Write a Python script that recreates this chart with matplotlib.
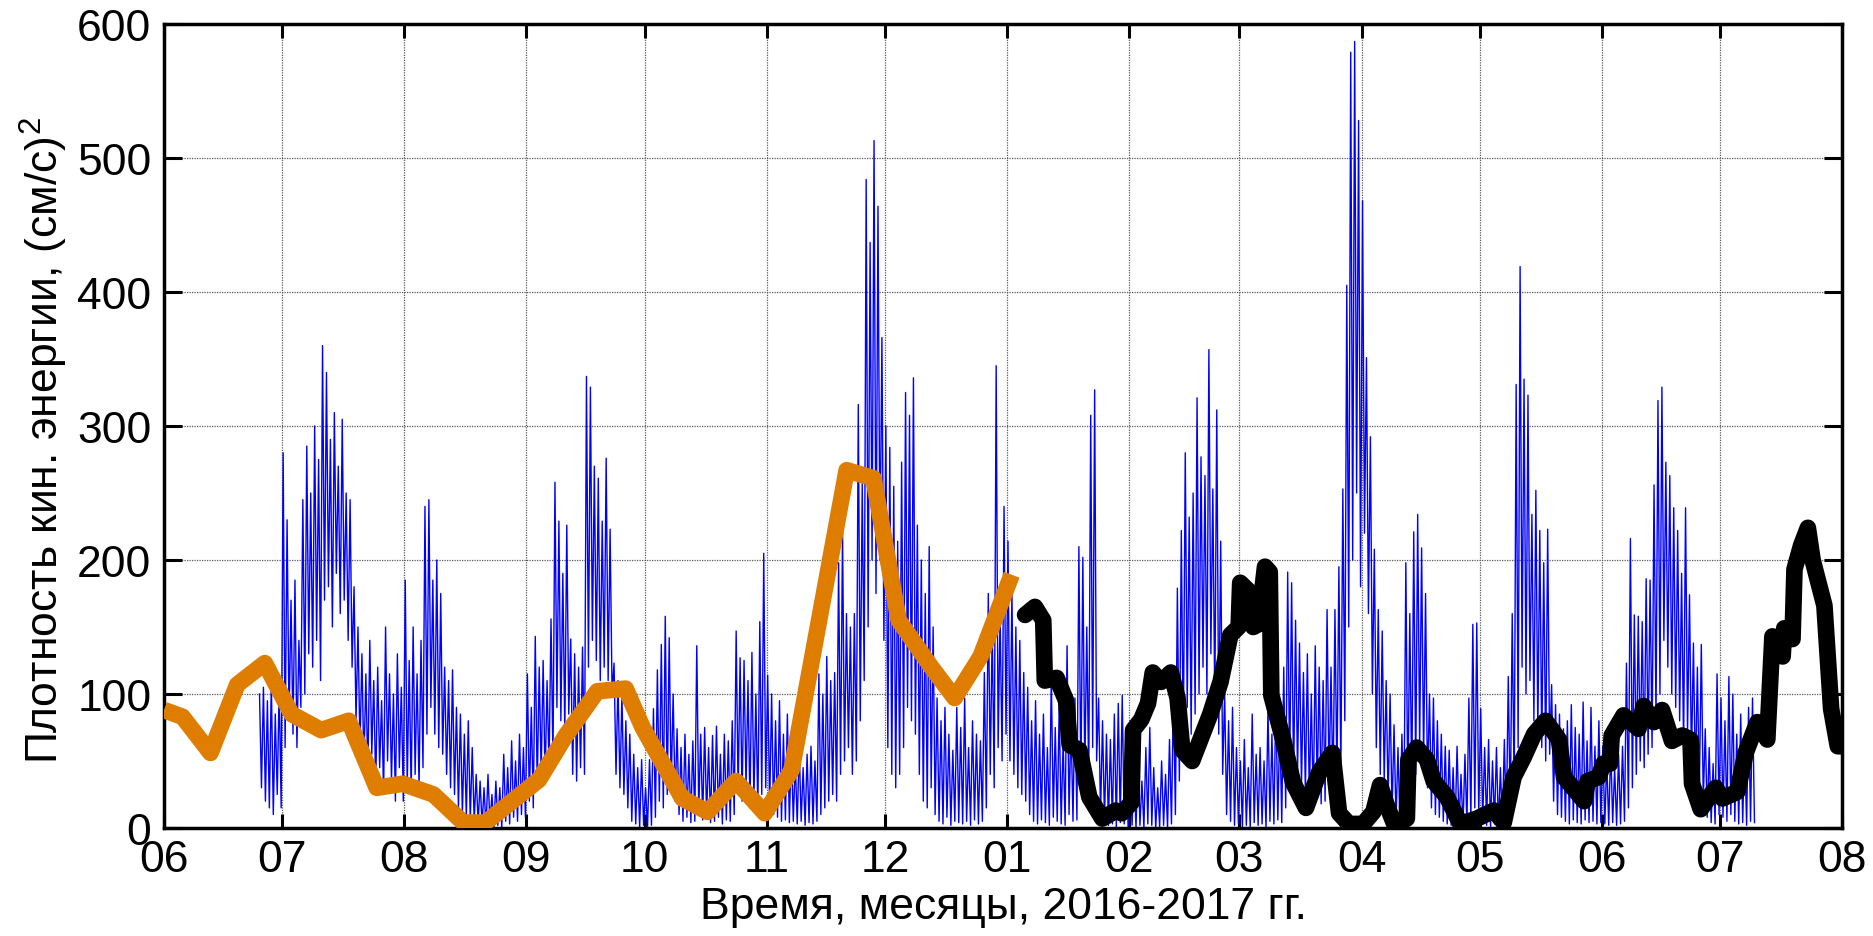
import numpy as np
import matplotlib
matplotlib.use('Agg')
import matplotlib.pyplot as plt

plt.rcParams['font.family'] = ['Liberation Sans', 'DejaVu Sans']
plt.rcParams['mathtext.fontset'] = 'custom'
plt.rcParams['mathtext.rm'] = 'Liberation Sans'
plt.rcParams['mathtext.default'] = 'regular'

# time axis: days counted from 2016-06-01
month_days   = [0, 30, 61, 92, 122, 153, 183, 214, 245, 273, 304, 334, 365, 395, 426]
month_labels = ['06', '07', '08', '09', '10', '11', '12', '01', '02', '03', '04', '05', '06', '07', '08']

# measured series: daily max / min of kinetic energy density, starting at day 24
blue_start = 24
blue_hi = [
    100, 105, 95, 110, 85, 105, 280, 230, 170, 185,
    140, 245, 285, 250, 300, 275, 360, 340, 290, 310,
    270, 305, 250, 245, 180, 150, 130, 115, 140, 110,
    120, 95, 150, 115, 100, 130, 105, 185, 125, 150,
    115, 140, 240, 245, 185, 200, 175, 120, 110, 118,
    90, 85, 70, 80, 60, 40, 35, 30, 40, 25,
    35, 30, 55, 45, 65, 50, 70, 60, 115, 90,
    143, 120, 125, 110, 156, 258, 229, 190, 226, 141,
    130, 120, 135, 337, 329, 270, 261, 229, 276, 223,
    123, 110, 100, 80, 70, 55, 45, 51, 30, 51,
    89, 118, 137, 158, 142, 100, 74, 60, 70, 55,
    65, 136, 70, 75, 60, 69, 76, 55, 70, 65,
    80, 147, 127, 125, 110, 131, 100, 154, 205, 114,
    100, 80, 95, 70, 85, 61, 50, 60, 45, 55,
    61, 50, 115, 100, 128, 110, 116, 198, 222, 160,
    150, 160, 316, 257, 484, 437, 513, 464, 366, 300,
    284, 255, 214, 273, 325, 308, 336, 226, 200, 175,
    210, 150, 97, 80, 90, 70, 58, 90, 75, 97,
    60, 80, 70, 65, 116, 175, 150, 345, 160, 240,
    214, 177, 150, 140, 116, 105, 80, 95, 70, 85,
    60, 114, 75, 90, 65, 136, 80, 97, 210, 202,
    150, 308, 327, 97, 80, 70, 66, 85, 93, 99,
    60, 45, 40, 54, 35, 60, 75, 45, 30, 50,
    40, 66, 100, 179, 222, 280, 232, 250, 321, 277,
    263, 357, 253, 312, 214, 101, 80, 90, 60, 50,
    66, 45, 85, 55, 60, 50, 89, 70, 97, 80,
    120, 191, 183, 155, 138, 116, 130, 100, 136, 120,
    110, 163, 120, 163, 195, 253, 405, 579, 587, 528,
    468, 351, 292, 208, 163, 147, 110, 100, 77, 60,
    70, 198, 160, 221, 234, 209, 175, 100, 97, 80,
    70, 61, 58, 45, 61, 40, 55, 97, 152, 153,
    89, 60, 66, 50, 60, 45, 66, 113, 160, 331,
    419, 335, 323, 234, 252, 222, 198, 223, 107, 92,
    85, 74, 80, 92, 75, 70, 94, 65, 90, 61,
    80, 61, 50, 61, 45, 55, 61, 123, 216, 159,
    158, 154, 186, 185, 256, 319, 329, 273, 263, 239,
    222, 190, 239, 174, 138, 120, 137, 74, 60, 48,
    115, 97, 80, 113, 100, 70, 85, 61, 90, 97,
]
blue_lo = [
    30, 20, 15, 10, 25, 15, 60, 80, 70, 60,
    90, 100, 130, 120, 140, 110, 170, 180, 150, 190,
    160, 170, 140, 120, 80, 60, 45, 40, 55, 30,
    45, 25, 50, 35, 20, 45, 20, 30, 25, 40,
    30, 45, 70, 90, 70, 60, 55, 40, 30, 25,
    15, 10, 8, 5, 5, 3, 2, 0, 3, 0,
    2, 0, 5, 3, 8, 5, 10, 8, 20, 15,
    30, 40, 35, 45, 50, 90, 80, 70, 85, 40,
    35, 45, 40, 120, 140, 125, 110, 120, 110, 100,
    40, 30, 25, 15, 5, 3, 0, 2, 0, 2,
    8, 20, 15, 25, 30, 20, 10, 5, 8, 4,
    5, 12, 6, 8, 4, 5, 8, 3, 6, 5,
    10, 25, 20, 30, 15, 20, 12, 25, 30, 15,
    10, 8, 5, 6, 4, 5, 3, 5, 2, 4,
    3, 5, 10, 15, 20, 25, 20, 40, 50, 60,
    40, 50, 80, 110, 150, 200, 175, 200, 140, 60,
    40, 30, 40, 60, 90, 80, 70, 40, 20, 15,
    30, 10, 5, 3, 8, 2, 5, 4, 3, 5,
    2, 6, 3, 5, 15, 40, 30, 60, 50, 70,
    50, 40, 30, 25, 20, 10, 5, 3, 6, 4,
    2, 8, 5, 3, 2, 10, 5, 6, 30, 40,
    35, 60, 50, 10, 5, 2, 3, 0, 4, 3,
    0, 2, 0, 2, 0, 3, 2, 0, 1, 2,
    0, 3, 10, 35, 60, 90, 70, 85, 100, 120,
    100, 130, 90, 70, 40, 10, 5, 2, 3, 0,
    2, 0, 4, 2, 3, 0, 5, 3, 6, 4,
    15, 40, 35, 40, 30, 25, 20, 15, 25, 18,
    20, 30, 25, 35, 40, 80, 150, 200, 250, 180,
    220, 160, 100, 60, 40, 35, 20, 10, 5, 3,
    5, 20, 30, 40, 60, 50, 30, 15, 10, 8,
    5, 3, 2, 0, 3, 0, 2, 5, 15, 10,
    5, 2, 0, 3, 0, 2, 3, 10, 25, 60,
    120, 100, 110, 80, 70, 60, 50, 55, 20, 10,
    8, 5, 3, 6, 4, 3, 6, 4, 5, 3,
    4, 3, 2, 4, 2, 3, 5, 15, 30, 40,
    50, 45, 55, 60, 80, 100, 140, 120, 100, 90,
    80, 60, 70, 50, 35, 25, 20, 8, 4, 3,
    10, 8, 5, 10, 5, 3, 4, 2, 5, 4,
]

# smoothed curve, 2016
orange_days = [0, 4.7, 11.8, 18.6, 25.6, 32.4, 39.9, 46.9, 54, 60.6, 68.4, 76, 81.6, 88.4,
               95.2, 102, 110, 117.2, 121.5, 131.6, 138, 145.2, 152.5, 159.3, 173.3,
               180.1, 186.5, 194.8, 200.7, 207.3, 215.2]
orange_vals = [88, 83, 56, 107, 123, 85, 73, 80, 30, 33, 25, 4, 4, 20,
               36, 69, 102, 104, 75, 22, 12, 35, 11, 43, 267,
               261, 155, 120, 97, 128, 189]

# smoothed curve, 2017
black_days = [218.6, 221.1, 223.2, 223.6, 226.6, 229, 229.9, 232.4, 234.9, 238.2, 241.6, 243.1,
              245.6, 246, 248.1, 249.8, 251, 253.1, 255.6, 257.3, 258.5, 261, 263.1, 265.6,
              268.2, 270.7, 272.8, 273.2, 275.3, 276.5, 277.8, 279.5, 280.7, 281.1, 284.1,
              286.6, 289.9, 293.3, 296.6, 298.3, 300.8, 304.4, 307, 308.7, 310.4, 312.5,
              315.5, 315.9, 318, 320.6, 322.3, 325.7, 329.1, 333.3, 337.6, 340.1, 342.6,
              345.2, 347.8, 350.7, 354.1, 355.4, 360.5, 361.4, 364.2, 365.4, 367.1, 367.5,
              370.5, 374.3, 375.6, 378.2, 380.3, 382.8, 385.4, 387.5, 387.9, 390.1, 393.9,
              395.6, 399.4, 401.5, 404.5, 407, 408.3, 410.9, 411.3, 413.4, 413.9, 415.6,
              417.3, 418.5, 421.5, 423.2, 424.9, 426]
black_vals = [159, 165, 155, 110, 112, 95, 62, 58, 23, 7, 13, 11,
              19, 73, 81, 93, 116, 109, 116, 97, 58, 50, 66, 85,
              109, 144, 150, 183, 177, 150, 152, 195, 191, 99, 66,
              34, 15, 42, 56, 11, 3, 3, 12, 32, 17, 1.5,
              7, 51, 60, 51, 35, 23, 3, 7, 13, 4, 38,
              53, 70, 80, 66, 38, 20, 35, 38, 48, 48, 69,
              84, 74, 91, 79, 88, 65, 69, 66, 33, 14, 30,
              22, 27, 56, 79, 66, 143, 128, 149, 141, 193, 211,
              224, 200, 166, 89, 61, 61]

# interleave daily max/min so the series draws as dense spikes
days = np.arange(blue_start, blue_start + len(blue_hi))
blue_x = np.column_stack([days + 0.25, days + 0.75]).ravel()
blue_y = np.column_stack([blue_hi, blue_lo]).ravel()

fig = plt.figure(figsize=(18.74, 9.37), dpi=100)
ax = fig.add_axes([0.0875, 0.1153, 0.8955, 0.858])

ax.plot(blue_x, blue_y, color='#0000ff', lw=1.0, zorder=2)
ax.plot(orange_days, orange_vals, color='#de7d00', lw=12,
        solid_joinstyle='round', solid_capstyle='butt', zorder=3)
ax.plot(black_days, black_vals, color='black', lw=12,
        solid_joinstyle='round', solid_capstyle='round', zorder=4)

ax.set_xlim(0, 426)
ax.set_ylim(0, 600)
ax.set_xticks(month_days)
ax.set_xticklabels(month_labels)
ax.set_yticks(range(0, 601, 100))

ax.set_axisbelow(True)
ax.grid(True, linestyle=(0, (1, 1)), linewidth=0.9, color='0.35')
for sp in ax.spines.values():
    sp.set_linewidth(2.5)

ax.tick_params(direction='in', top=True, right=True, width=2.2, labelsize=32)
ax.tick_params(axis='x', length=10, pad=8)
ax.tick_params(axis='y', length=13, pad=9)

ax.set_xlabel('Время, месяцы, 2016-2017 гг.', fontsize=32)
ax.set_ylabel('Плотность кин. энергии, (см/с)$^2$', fontsize=32)
ax.xaxis.set_label_coords(0.5, -0.072)
ax.yaxis.set_label_coords(-0.056, 0.483)

fig.savefig('out.png', dpi=100)
